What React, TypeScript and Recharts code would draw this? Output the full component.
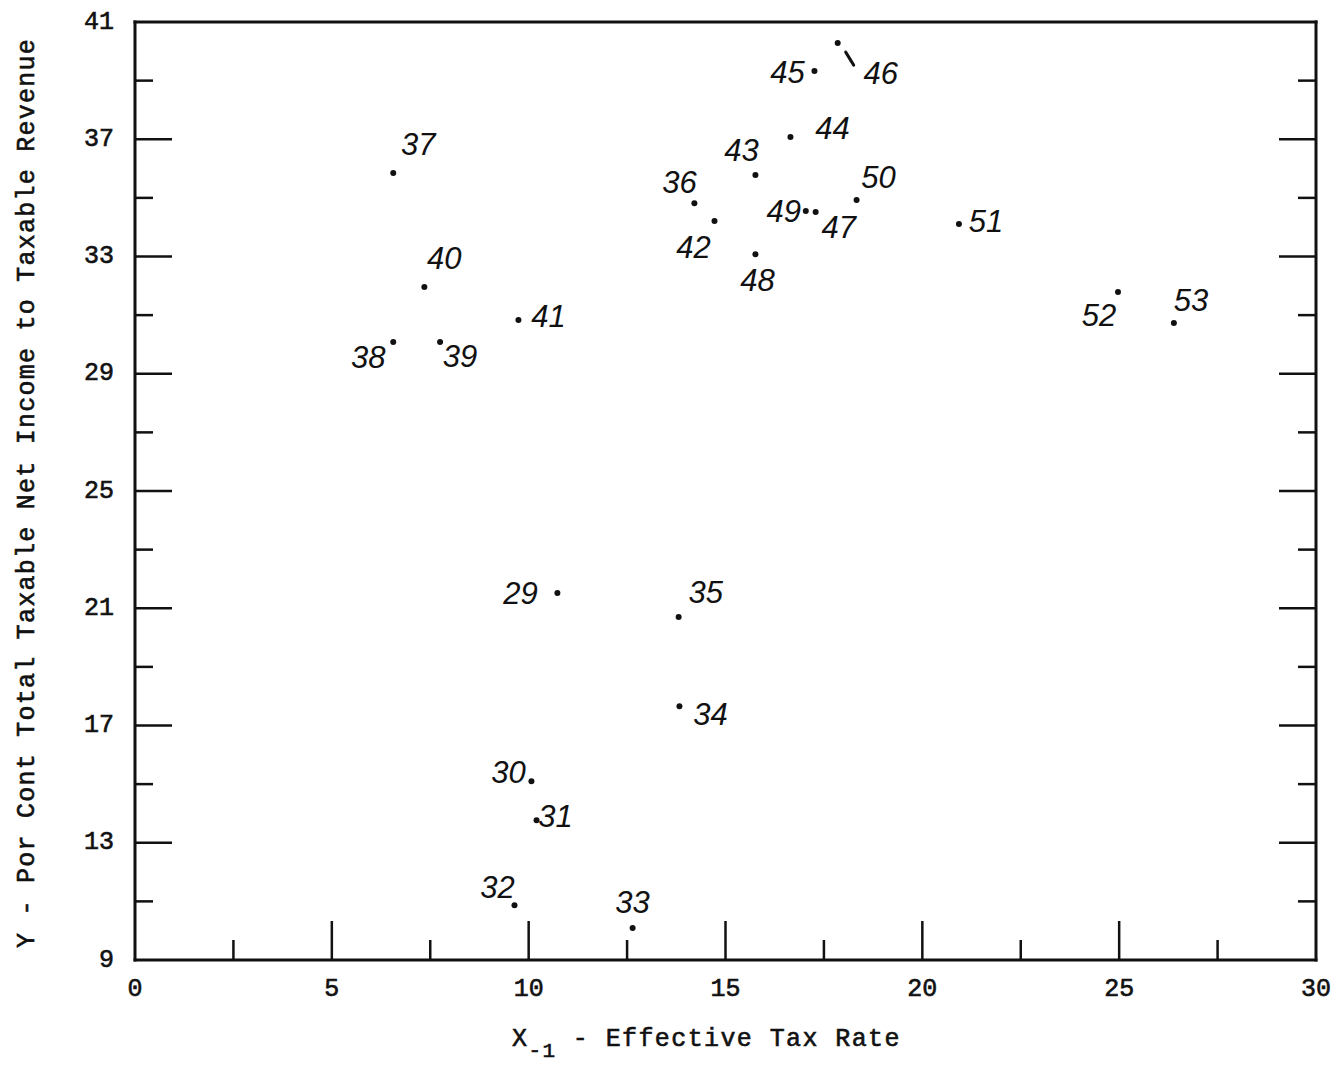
import React from 'react';
import { ScatterChart, Scatter, XAxis, YAxis } from 'recharts';

// ---- data ----
const pointIds = [29, 30, 31, 32, 33, 34, 35, 36, 37, 38, 39, 40, 41, 42, 43, 44, 45, 46, 47, 48, 49, 50, 51, 52, 53];
const effectiveTaxRate = [10.73, 10.07, 10.2, 9.64, 12.64, 13.83, 13.81, 14.21, 6.56, 6.56, 7.75, 7.35, 9.74, 14.72, 15.76, 16.65, 17.26, 17.85, 17.29, 15.76, 17.04, 18.33, 20.93, 24.97, 26.39];
const netIncomeRatio = [21.52, 15.1, 13.77, 10.87, 10.09, 17.66, 20.7, 34.82, 35.85, 30.08, 30.08, 31.96, 30.83, 34.21, 35.78, 37.08, 39.33, 40.28, 34.52, 33.08, 34.55, 34.93, 34.11, 31.79, 30.73];

const xTicks = [0, 2.5, 5, 7.5, 10, 12.5, 15, 17.5, 20, 22.5, 25, 27.5, 30];
const xMajor = [0, 5, 10, 15, 20, 25, 30];
const yTicks = [9, 11, 13, 15, 17, 19, 21, 23, 25, 27, 29, 31, 33, 35, 37, 39, 41];
const yMajor = [9, 13, 17, 21, 25, 29, 33, 37, 41];

const xTitleMain = 'X';
const xTitleSub = '-1';
const xTitleRest = ' - Effective Tax Rate';
const yTitle = 'Y - Por Cont Total Taxable Net Income to Taxable Revenue';

// label placement (text centre offset from the dot, px) – layout only
const labelOffsets: Record<number, [number, number]> = {
  29: [-37, 0], 30: [-23, -9], 31: [19, -4], 32: [-17, -18], 33: [0, -26],
  34: [31, 8], 35: [27, -25], 36: [-15, -21], 37: [25, -28], 38: [-25, 15],
  39: [20, 14], 40: [20, -28], 41: [30, -4], 42: [-21, 26], 43: [-14, -25],
  44: [42, -8], 45: [-27, 2], 46: [43, 30], 47: [23, 16], 48: [2, 26],
  49: [-22, 0], 50: [22, -22], 51: [27, -2], 52: [-19, 24], 53: [17, -23],
};
const leaderLines: Record<number, [number, number, number, number]> = {
  46: [8, 9, 16, 22],
};

const points = pointIds.map((id, i) => ({ id, x: effectiveTaxRate[i], y: netIncomeRatio[i] }));

const MONO = '"Liberation Mono", "DejaVu Sans Mono", monospace';
const HAND = '"Liberation Sans", "DejaVu Sans", sans-serif';
const INK = '#111';

const MAJOR_X = 39;
const MINOR_X = 20;
const MAJOR_Y = 37;
const MINOR_Y = 18;
const X_MIN = 0, X_MAX = 30, Y_MIN = 9, Y_MAX = 41;

const monoText = { fontFamily: MONO, fill: INK, stroke: INK, strokeWidth: 0.6 };

const BottomTick = (props: any) => {
  const { x, y, payload } = props;
  const v = payload.value;
  const major = xMajor.includes(v);
  const edge = v === X_MIN || v === X_MAX;
  return (
    <g>
      {!edge && <line x1={x} y1={y} x2={x} y2={y - (major ? MAJOR_X : MINOR_X)} stroke={INK} strokeWidth={2.5} />}
      {major && (
        <text x={x} y={y + 29} textAnchor="middle" dominantBaseline="central" fontSize={25} {...monoText}>
          {v}
        </text>
      )}
    </g>
  );
};

const TopTick = (props: any) => {
  const { x, y, payload } = props;
  const v = payload.value;
  const major = xMajor.includes(v);
  const edge = v === X_MIN || v === X_MAX;
  if (edge) return <g />;
  return <line x1={x} y1={y} x2={x} y2={y + (major ? MAJOR_X : MINOR_X)} stroke={INK} strokeWidth={2.5} />;
};

const LeftTick = (props: any) => {
  const { x, y, payload } = props;
  const v = payload.value;
  const major = yMajor.includes(v);
  const edge = v === Y_MIN || v === Y_MAX;
  return (
    <g>
      {!edge && <line x1={x} y1={y} x2={x + (major ? MAJOR_Y : MINOR_Y)} y2={y} stroke={INK} strokeWidth={2.5} />}
      {major && (
        <text x={x - 21} y={y} textAnchor="end" dominantBaseline="central" fontSize={25} {...monoText}>
          {v}
        </text>
      )}
    </g>
  );
};

const RightTick = (props: any) => {
  const { x, y, payload } = props;
  const v = payload.value;
  const major = yMajor.includes(v);
  const edge = v === Y_MIN || v === Y_MAX;
  if (edge) return <g />;
  return <line x1={x} y1={y} x2={x - (major ? MAJOR_Y : MINOR_Y)} y2={y} stroke={INK} strokeWidth={2.5} />;
};

const PointMark = (props: any) => {
  const { cx, cy, payload } = props;
  if (cx == null || cy == null) return <g />;
  const off = labelOffsets[payload.id] || [15, -15];
  const lead = leaderLines[payload.id];
  return (
    <g>
      <circle cx={cx} cy={cy} r={3} fill={INK} />
      {lead && (
        <line x1={cx + lead[0]} y1={cy + lead[1]} x2={cx + lead[2]} y2={cy + lead[3]} stroke={INK} strokeWidth={3} strokeLinecap="round" />
      )}
      <text
        x={cx + off[0]}
        y={cy + off[1]}
        textAnchor="middle"
        dominantBaseline="central"
        fontFamily={HAND}
        fontStyle="italic"
        fontSize={31}
        fill={INK}
      >
        {payload.id}
      </text>
    </g>
  );
};

const XTitle = (props: any) => {
  const vb = props.viewBox || { x: 135, y: 960, width: 1181, height: 106 };
  return (
    <text x={vb.x + 377} y={vb.y + 86} fontSize={25} letterSpacing={1.4} {...monoText}>
      {xTitleMain}
      <tspan dy={11} fontSize={21}>{xTitleSub}</tspan>
      <tspan dy={-11}>{xTitleRest}</tspan>
    </text>
  );
};

const YTitle = (props: any) => {
  const vb = props.viewBox || { x: 0, y: 22, width: 135, height: 938 };
  const cx = 27;
  const cy = vb.y + vb.height / 2 + 2;
  return (
    <text
      x={cx}
      y={cy}
      transform={`rotate(-90 ${cx} ${cy})`}
      textAnchor="middle"
      dominantBaseline="central"
      fontSize={25}
      letterSpacing={1.25}
      {...monoText}
    >
      {yTitle}
    </text>
  );
};

const frameLine = { stroke: INK, strokeWidth: 3, strokeLinecap: 'square' as const };

export default function App() {
  return (
    <div style={{ position: 'absolute', left: 0, top: 0, width: 1336, height: 1066, background: '#fff' }}>
      <ScatterChart width={1336} height={1066} margin={{ top: 0, right: 0, bottom: 0, left: 0 }}>
        <XAxis
          xAxisId="bottom"
          type="number"
          dataKey="x"
          orientation="bottom"
          domain={[X_MIN, X_MAX]}
          ticks={xTicks}
          interval={0}
          height={106}
          allowDataOverflow
          axisLine={frameLine}
          tickLine={false}
          tickSize={0}
          tickMargin={0}
          tick={BottomTick}
          label={{ content: XTitle }}
        />
        <XAxis
          xAxisId="top"
          type="number"
          orientation="top"
          domain={[X_MIN, X_MAX]}
          ticks={xTicks}
          interval={0}
          height={22}
          allowDataOverflow
          axisLine={frameLine}
          tickLine={false}
          tickSize={0}
          tickMargin={0}
          tick={TopTick}
        />
        <YAxis
          yAxisId="left"
          type="number"
          dataKey="y"
          orientation="left"
          domain={[Y_MIN, Y_MAX]}
          ticks={yTicks}
          interval={0}
          width={135}
          allowDataOverflow
          axisLine={frameLine}
          tickLine={false}
          tickSize={0}
          tickMargin={0}
          tick={LeftTick}
          label={{ content: YTitle }}
        />
        <YAxis
          yAxisId="right"
          type="number"
          orientation="right"
          domain={[Y_MIN, Y_MAX]}
          ticks={yTicks}
          interval={0}
          width={20}
          allowDataOverflow
          axisLine={frameLine}
          tickLine={false}
          tickSize={0}
          tickMargin={0}
          tick={RightTick}
        />
        <Scatter
          data={points}
          xAxisId="bottom"
          yAxisId="left"
          shape={PointMark}
          isAnimationActive={false}
        />
      </ScatterChart>
    </div>
  );
}
